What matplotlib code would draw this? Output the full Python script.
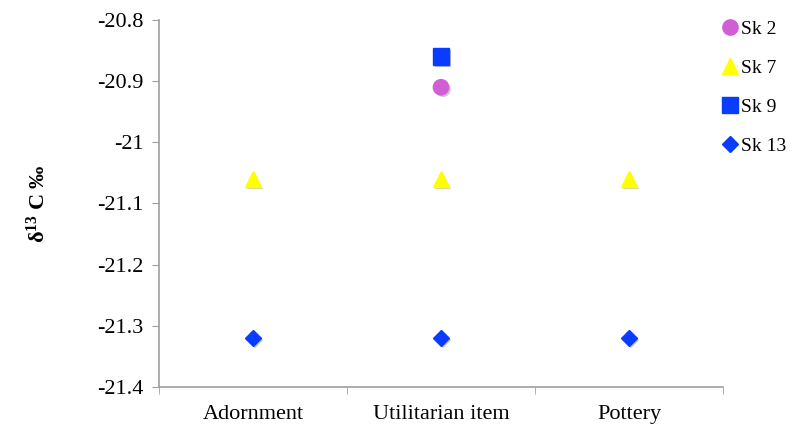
import matplotlib.pyplot as plt
import matplotlib.patheffects as pe

categories = ["Adornment", "Utilitarian item", "Pottery"]
sk2 = [None, -20.91, None]
sk7 = [-21.06, -21.06, -21.06]
sk9 = [None, -20.86, None]
sk13 = [-21.32, -21.32, -21.32]

plt.rcParams['font.family'] = ['Liberation Serif', 'DejaVu Serif']
plt.rcParams['mathtext.fontset'] = 'custom'
plt.rcParams['mathtext.rm'] = 'Liberation Serif'
plt.rcParams['mathtext.bf'] = 'Liberation Serif:bold'

fig = plt.figure(figsize=(7.92, 4.25), dpi=100)
ax = fig.add_axes([159 / 792, 1 - 387 / 425, (723 - 159) / 792, (387 - 20) / 425])

shadow = [pe.SimplePatchShadow(offset=(1.5, -1.5), alpha=0.25), pe.Normal()]

def pts(vals):
    xs = [i for i, v in enumerate(vals) if v is not None]
    ys = [v for v in vals if v is not None]
    return xs, ys

series = [
    ("Sk 2", sk2, "o", "#D05FD6", 11),
    ("Sk 7", sk7, "^", "#FFFF00", 11),
    ("Sk 9", sk9, "s", "#0A3CFF", 12),
    ("Sk 13", sk13, "D", "#0A3CFF", 8),
]
for name, vals, m, c, s in series:
    xs, ys = pts(vals)
    ax.plot(xs, ys, linestyle="none", marker=m, color=c, markersize=s,
            label=name, path_effects=shadow)

ax.set_xlim(-0.5, 2.5)
ax.set_ylim(-21.4, -20.8)
ax.set_yticks([-21.4, -21.3, -21.2, -21.1, -21.0, -20.9, -20.8])
ax.set_yticklabels(["-21.4", "-21.3", "-21.2", "-21.1", "-21", "-20.9", "-20.8"])
ax.set_xticks([0, 1, 2])
ax.set_xticklabels(categories)
ax.set_xticks([-0.5, 0.5, 1.5, 2.5], minor=True)
ax.tick_params(axis="x", which="major", length=0, pad=13, labelsize=16)
ax.tick_params(axis="x", which="minor", length=5, color="#A0A0A0", direction="out")
ax.tick_params(axis="y", length=5, color="#A0A0A0", direction="out", labelsize=16, pad=6)

for sp in ["top", "right"]:
    ax.spines[sp].set_visible(False)
for sp in ["left", "bottom"]:
    ax.spines[sp].set_color("#A0A0A0")
    ax.spines[sp].set_linewidth(1.2)

ax.set_ylabel(r"$\mathbf{\delta^{13}}$ C ‰", fontweight="bold", fontsize=16, labelpad=34)

leg = ax.legend(loc="upper left", bbox_to_anchor=(1.0, 1.0), frameon=False,
                fontsize=14, handlelength=0.7, handletextpad=0.25,
                labelspacing=1.1, borderaxespad=0, borderpad=0)
for h in leg.legend_handles:
    h.set_path_effects([])

fig.savefig("out.png", dpi=100)
